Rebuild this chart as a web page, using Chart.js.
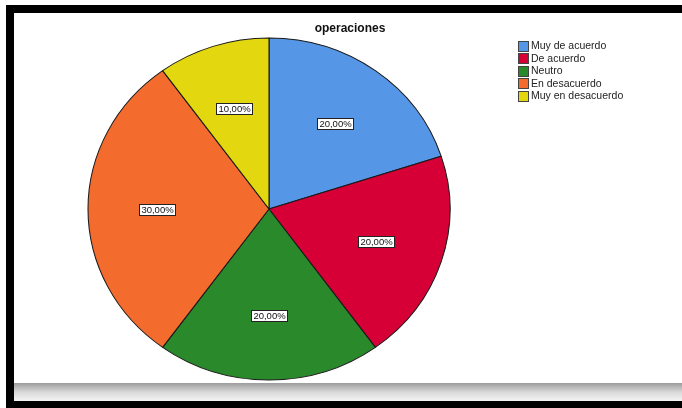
<!DOCTYPE html>
<html><head><meta charset="utf-8">
<script src="https://cdn.jsdelivr.net/npm/chart.js@4"></script>
<style>
html,body{margin:0;padding:0;background:#fff;}
#wrap{position:relative;width:682px;height:408px;overflow:hidden;background:#fff;}
.blk{position:absolute;background:#000;}
#band{position:absolute;left:14px;top:383px;width:668px;height:18px;background:linear-gradient(#9c9c9c,#d8d8d8 50%,#f4f4f4);}
#c{position:absolute;left:0;top:0;}
</style></head>
<body>
<div id="wrap">
  <div class="blk" style="left:6px;top:5px;width:676px;height:8px"></div>
  <div class="blk" style="left:6px;top:5px;width:8px;height:403px"></div>
  <div class="blk" style="left:6px;top:401px;width:676px;height:7px"></div>
  <div id="band"></div>
  <canvas id="c" width="682" height="408"></canvas>
</div>
<script>
const title = "operaciones";
const categories = ["Muy de acuerdo","De acuerdo","Neutro","En desacuerdo","Muy en desacuerdo"];
const percentages = [20, 20, 20, 30, 10];
const colors = ["#5596E6","#D60036","#2A8A2B","#F46B2E","#E3D80F"];

const H_STRETCH = 181/171;
const LABEL_FRAC = 0.62;

const stretchPlugin = {
  id: 'stretch',
  beforeDatasetsDraw(chart){
    const a = chart.getDatasetMeta(0).data[0];
    const ctx = chart.ctx;
    ctx.save();
    ctx.translate(a.x, a.y); ctx.scale(H_STRETCH, 1); ctx.translate(-a.x, -a.y);
  },
  afterDatasetsDraw(chart){
    chart.ctx.restore();
    const ctx = chart.ctx;
    const meta = chart.getDatasetMeta(0);
    ctx.save();
    ctx.font = '9.5px "Liberation Sans", Arial, sans-serif';
    ctx.textAlign = 'center'; ctx.textBaseline = 'middle';
    meta.data.forEach((arc, i) => {
      const mid = (arc.startAngle + arc.endAngle)/2;
      const r = arc.outerRadius * LABEL_FRAC;
      const x = arc.x + Math.cos(mid) * r * H_STRETCH;
      const y = arc.y + Math.sin(mid) * r;
      const txt = percentages[i].toFixed(2).replace('.', ',') + '%';
      const w = Math.round(ctx.measureText(txt).width) + 4;
      const h = 11;
      const bx = Math.round(x - w/2) + 0.5, by = Math.round(y - h/2) + 0.5;
      ctx.fillStyle = '#fff'; ctx.fillRect(bx, by, w, h);
      ctx.strokeStyle = '#222'; ctx.lineWidth = 1; ctx.strokeRect(bx, by, w, h);
      ctx.fillStyle = '#111';
      ctx.fillText(txt, bx + w/2, by + h/2 + 0.5);
    });
    ctx.restore();
  },
  afterDraw(chart){
    const ctx = chart.ctx;
    ctx.save();
    ctx.font = 'bold 12px "Liberation Sans", Arial, sans-serif';
    ctx.fillStyle = '#111'; ctx.textAlign = 'center'; ctx.textBaseline = 'middle';
    ctx.fillText(title, 350, 29);
    ctx.font = '10.5px "Liberation Sans", Arial, sans-serif';
    ctx.textAlign = 'left';
    chart.data.labels.forEach((lab, i) => {
      const y = 46 + i * 12.4;
      ctx.fillStyle = colors[i];
      ctx.fillRect(518.5, Math.round(y - 5) + 0.5, 10, 10);
      ctx.strokeStyle = '#444'; ctx.lineWidth = 1;
      ctx.strokeRect(518.5, Math.round(y - 5) + 0.5, 10, 10);
      ctx.fillStyle = '#222';
      ctx.fillText(lab, 531, y + 0.5);
    });
    ctx.restore();
  }
};

new Chart(document.getElementById('c'), {
  type: 'pie',
  data: {
    labels: categories,
    datasets: [{
      data: percentages,
      backgroundColor: colors,
      borderColor: '#1a1a1a',
      borderWidth: 1,
      radius: 171
    }]
  },
  options: {
    responsive: false,
    animation: false,
    layout: { padding: { left: 80, right: 224, top: 25, bottom: 15 } },
    plugins: { legend: { display: false }, title: { display: false }, tooltip: { enabled: false } }
  },
  plugins: [stretchPlugin]
});
</script>
</body></html>
